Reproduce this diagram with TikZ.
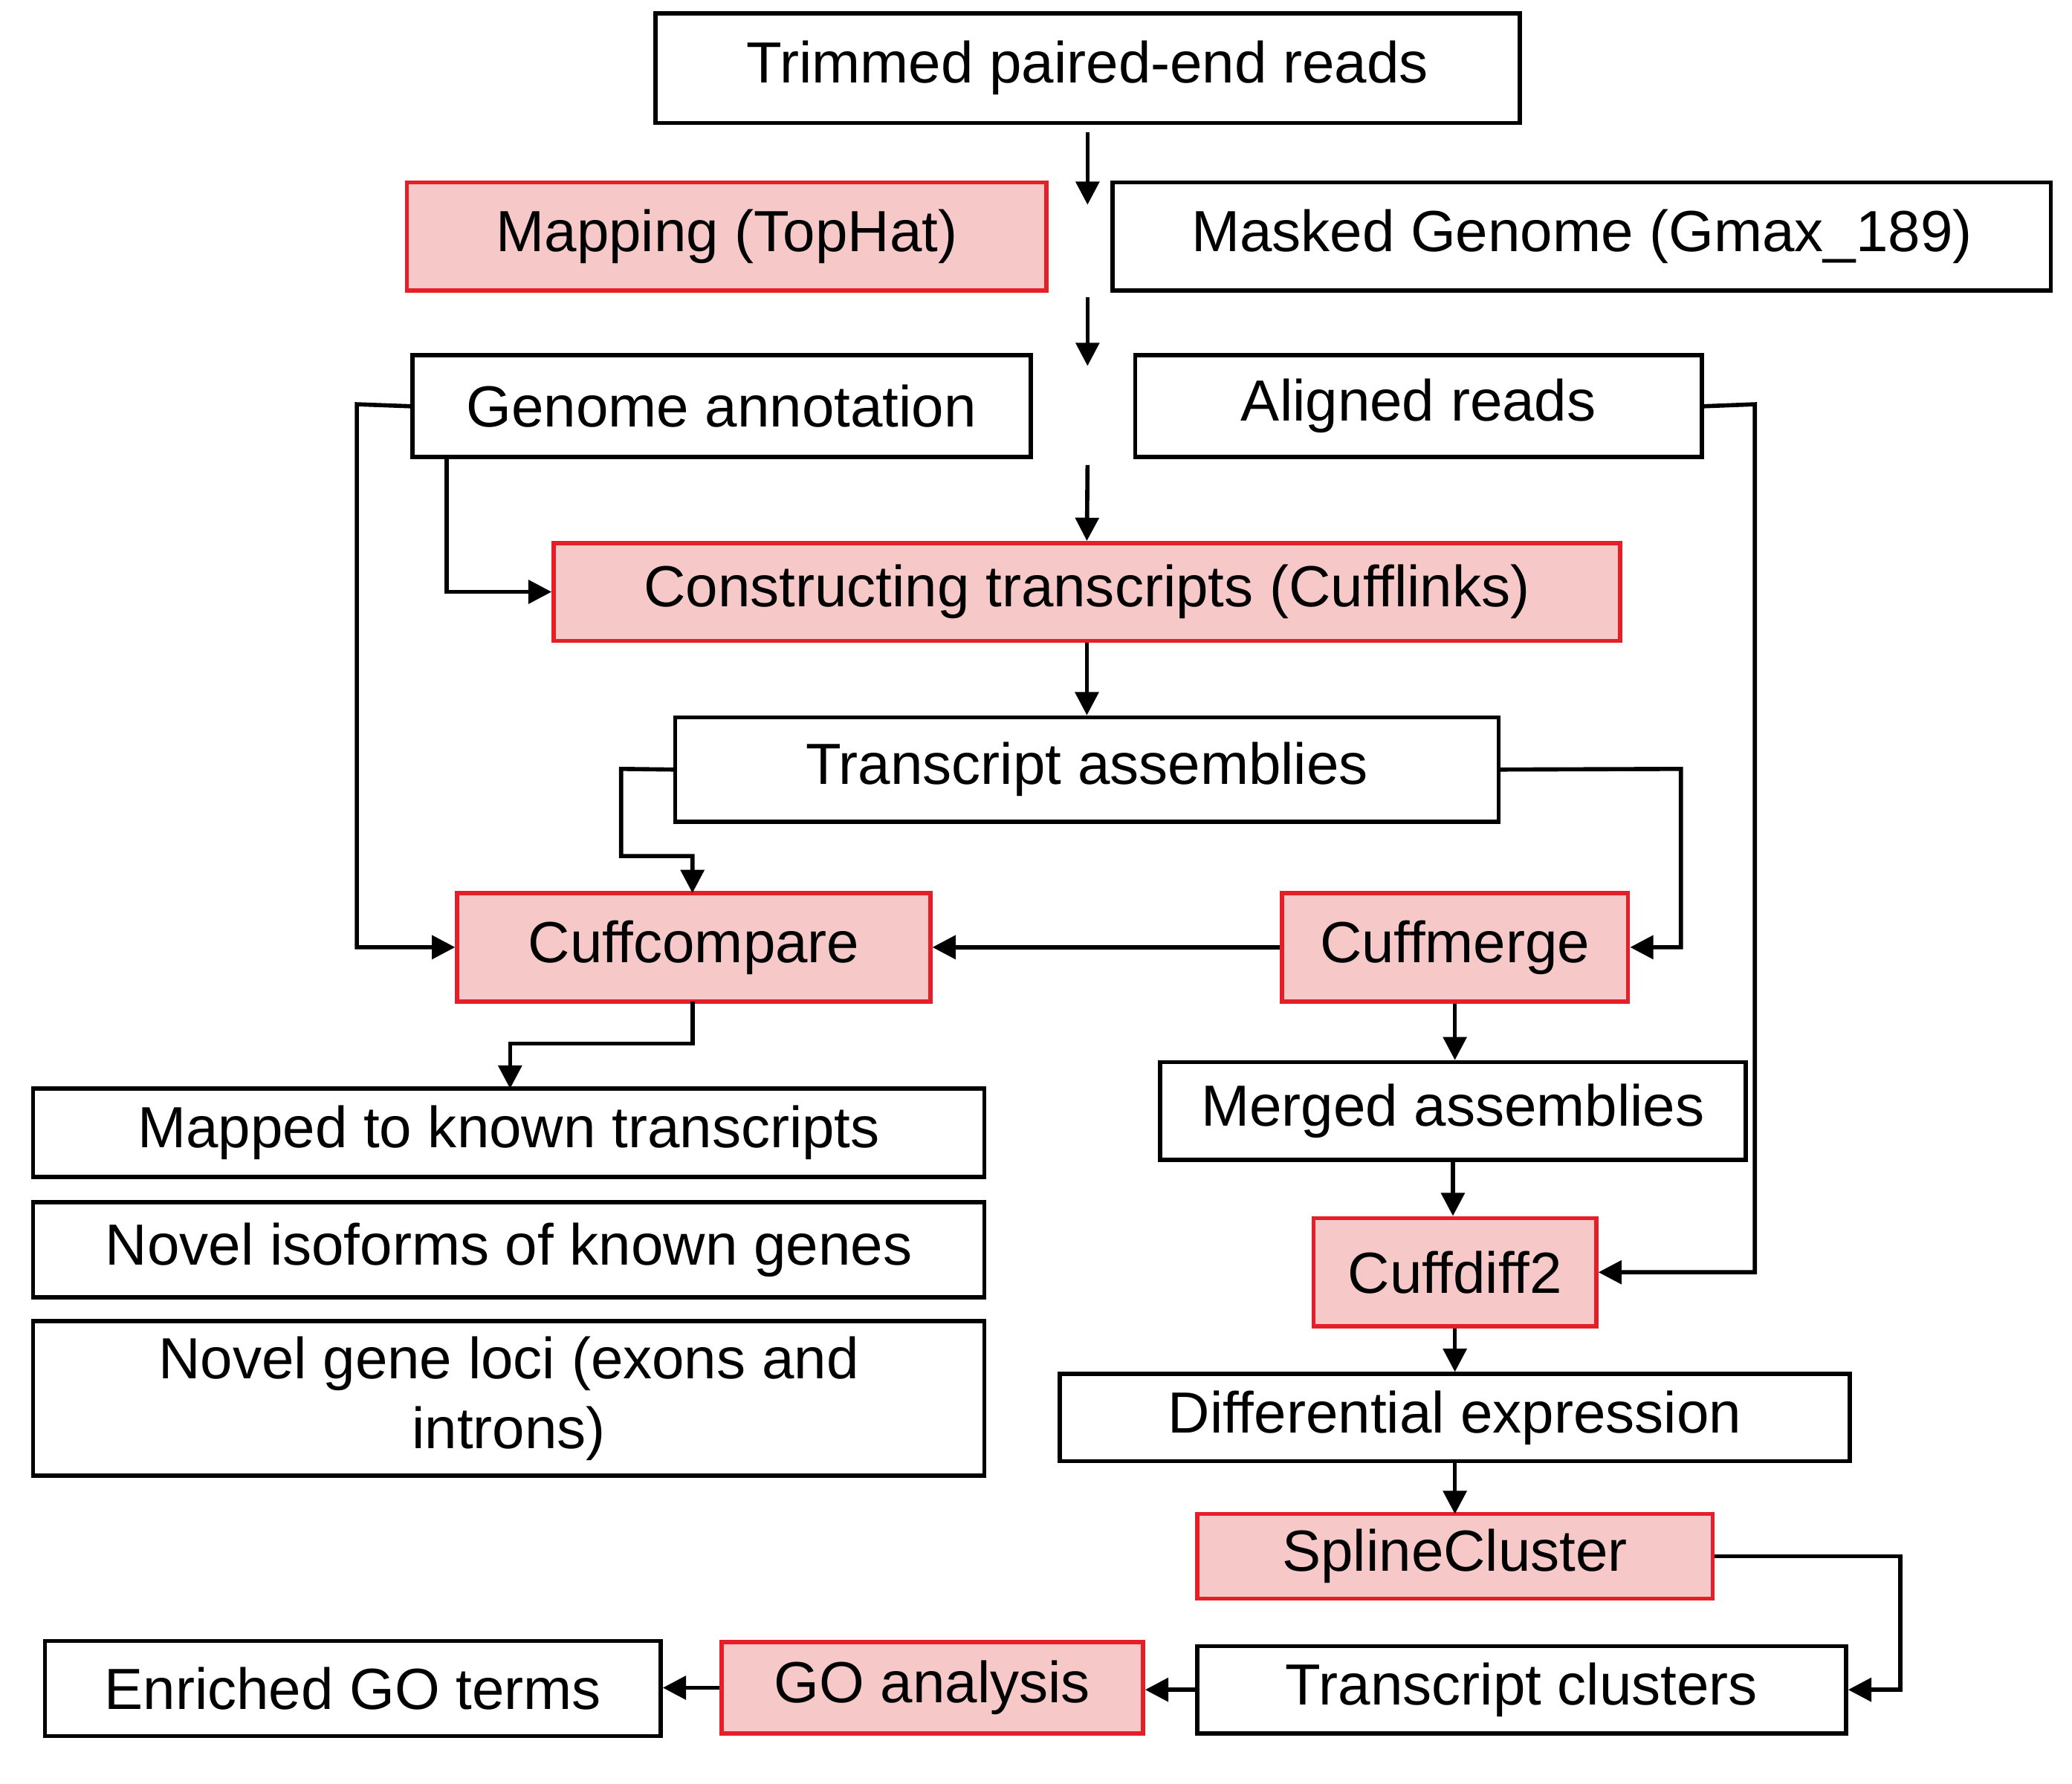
\documentclass[tikz,border=0pt]{standalone}
\usepackage{fontspec}
\setmainfont{Liberation Sans}
\usetikzlibrary{arrows.meta}
\definecolor{boxred}{RGB}{230,30,40}
\definecolor{boxfill}{RGB}{246,200,200}
\tikzset{
 bx/.style={draw=black,line width=0.9pt,inner sep=0pt,align=center,font=\fontsize{12.5}{15}\selectfont},
 rbx/.style={bx,draw=boxred,fill=boxfill},
 ar/.style={line width=0.9pt,-{Triangle[length=5pt,width=5pt]}}
}
\newcommand{\mybox}[7]{\node[#6,minimum width={(#4-#2)*0.1mm},minimum height={(#5-#3)*0.1mm}] (#1) at ({(#2+#4)/2},{(#3+#5)/2}) {#7};}
\begin{document}
\begin{tikzpicture}[x=0.1mm,y=-0.1mm]
\useasboundingbox (0,0) rectangle (1568,1350);
\mybox{trim}{496}{10}{1150}{93}{bx}{Trimmed paired-end reads}
\mybox{map}{308}{138}{792}{220}{rbx}{Mapping (TopHat)}
\mybox{mask}{842}{138}{1552}{220}{bx}{Masked Genome (Gmax\_189)}
\mybox{annot}{312}{269}{780}{346}{bx}{Genome annotation}
\mybox{align}{859}{269}{1288}{346}{bx}{Aligned reads}
\mybox{cons}{419}{411}{1226}{485}{rbx}{Constructing transcripts (Cufflinks)}
\mybox{tass}{511}{543}{1134}{622}{bx}{Transcript assemblies}
\mybox{ccomp}{346}{676}{704}{758}{rbx}{Cuffcompare}
\mybox{cmerge}{970}{676}{1232}{758}{rbx}{Cuffmerge}
\mybox{known}{25}{824}{745}{891}{bx}{Mapped to known transcripts}
\mybox{iso}{25}{910}{745}{982}{bx}{Novel isoforms of known genes}
\mybox{loci}{25}{1000}{745}{1117}{bx}{Novel gene loci (exons and\\introns)}
\mybox{merged}{878}{804}{1321}{878}{bx}{Merged assemblies}
\mybox{cdiff}{994}{922}{1208}{1004}{rbx}{Cuffdiff2}
\mybox{dexp}{802}{1040}{1400}{1106}{bx}{Differential expression}
\mybox{spline}{906}{1146}{1296}{1210}{rbx}{SplineCluster}
\mybox{tclus}{906}{1246}{1397}{1312}{bx}{Transcript clusters}
\mybox{go}{546}{1243}{865}{1312}{rbx}{GO analysis}
\mybox{enr}{34}{1242}{500}{1314}{bx}{Enriched GO terms}
\coordinate (a1) at (823,100); \coordinate (a2) at (823,155);
\coordinate (b1) at (823,225); \coordinate (b2) at (823,277);
\coordinate (c1) at (823,352);
\draw[ar] (a1) -- (a2);
\draw[ar] (b1) -- (b2);
\draw[ar] (c1) -- (cons.north);
\draw[ar] (cons.south) -- (cons.south|-tass.north);
\draw[ar] (annot.west) -- (270,306) |- (ccomp.west);
\draw[ar] (338,346) |- (cons.west);
\draw[ar] (align.east) -- (1328,306) |- (cdiff.east);
\draw[ar] (tass.west) -- (470,582) |- (524,648) -- (524,676);
\draw[ar] (tass.east) -- (1272,582) |- (cmerge.east);
\draw[ar] (cmerge.west) -- (ccomp.east);
\draw[ar] (524,758) -- (524,790) -| (386,824);
\draw[ar] (cmerge.south) -- (cmerge.south|-merged.north);
\draw[ar] (merged.south) -- (merged.south|-cdiff.north);
\draw[ar] (cdiff.south) -- (cdiff.south|-dexp.north);
\draw[ar] (1101,1106) -- (1101,1146);
\draw[ar] (spline.east) -- (1438,1178) |- (tclus.east);
\draw[ar] (tclus.west) -- (go.east|-tclus.west);
\draw[ar] (go.west) -- (enr.east|-go.west);
\end{tikzpicture}
\end{document}
